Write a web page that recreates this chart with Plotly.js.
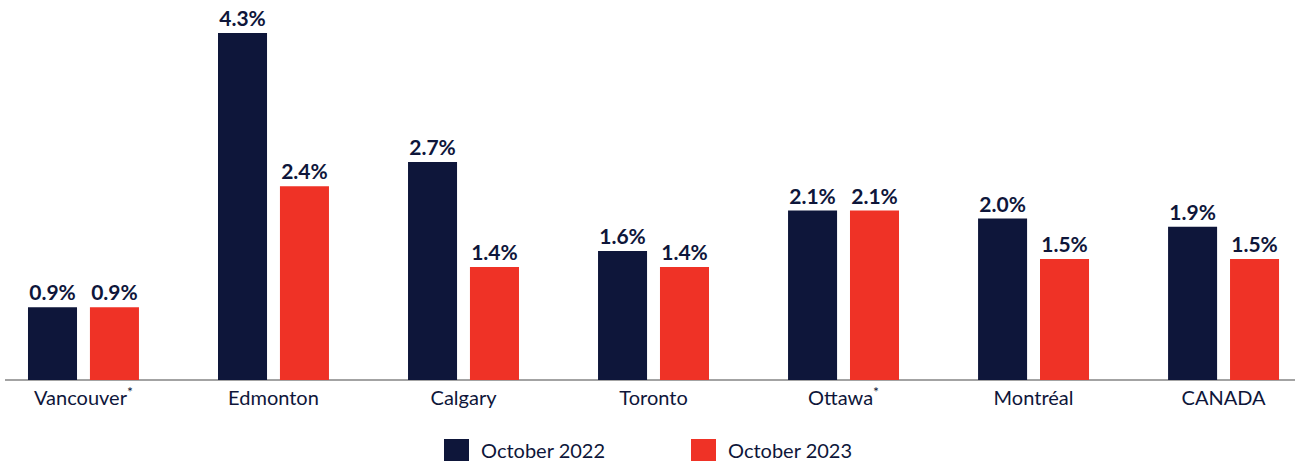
<!DOCTYPE html>
<html>
<head>
<meta charset="utf-8">
<script src="https://cdn.plot.ly/plotly-3.0.1.min.js"></script>
<style>html,body{margin:0;padding:0;background:#fff;}#chart{width:1299px;height:461px;}</style>
</head>
<body>
<div id="chart"></div>
<script>
const categories = ["Vancouver<sup>*</sup>", "Edmonton", "Calgary", "Toronto", "Ottawa<sup>*</sup>", "Montréal", "CANADA"];
const oct2022 = [0.9, 4.3, 2.7, 1.6, 2.1, 2.0, 1.9];
const oct2023 = [0.9, 2.4, 1.4, 1.4, 2.1, 1.5, 1.5];
const seriesNames = ["October 2022", "October 2023"];

const navy = "#0e163a", red = "#ef3226";
const colors = [navy, red];
const font = "Lato, 'Open Sans', sans-serif";
const fmt = v => v.toFixed(1) + "%";

const traces = [
  {type: "bar", name: seriesNames[0], x: categories, y: oct2022, marker: {color: navy},
   width: 0.258, offset: -0.292, text: oct2022.map(fmt), textposition: "outside",
   textfont: {family: font, size: 21, color: navy, weight: 700}, cliponaxis: false, hoverinfo: "skip"},
  {type: "bar", name: seriesNames[1], x: categories, y: oct2023, marker: {color: red},
   width: 0.258, offset: 0.034, text: oct2023.map(fmt), textposition: "outside",
   textfont: {family: font, size: 21, color: navy, weight: 700}, cliponaxis: false, hoverinfo: "skip"}
];

// manual legend (pixel positions converted to paper coords)
const W = 1299, H = 461, mL = 5, mR = 4, mT = 10, mB = 81;
const pw = W - mL - mR, ph = H - mT - mB;
const px = x => (x - mL) / pw;
const py = y => (H - mB - y) / ph;
const legendX = [444, 691];
const shapes = [], annotations = [];
seriesNames.forEach((n, i) => {
  shapes.push({type: "rect", xref: "paper", yref: "paper", x0: px(legendX[i]), x1: px(legendX[i] + 25),
    y0: py(462), y1: py(439), fillcolor: colors[i], line: {width: 0}});
  annotations.push({xref: "paper", yref: "paper", x: px(legendX[i] + 35), y: py(449.5), xanchor: "left",
    yanchor: "middle", text: n, showarrow: false, font: {family: font, size: 20, color: navy}});
});

const layout = {
  width: W, height: H,
  margin: {l: mL, r: mR, t: mT, b: mB},
  paper_bgcolor: "#fff", plot_bgcolor: "#fff",
  barmode: "overlay",
  showlegend: false,
  shapes: shapes, annotations: annotations,
  xaxis: {type: "category", range: [-0.413, 6.376], showgrid: false, zeroline: false,
          showline: false, ticks: "", ticklabelstandoff: 4, tickfont: {family: font, size: 20, color: navy}},
  yaxis: {range: [0, 4.585], showgrid: false, zeroline: true, zerolinecolor: "#a3a3a3",
          zerolinewidth: 2, showticklabels: false, showline: false, ticks: ""}
};

Plotly.newPlot("chart", traces, layout, {displayModeBar: false, staticPlot: true});
</script>
</body>
</html>
